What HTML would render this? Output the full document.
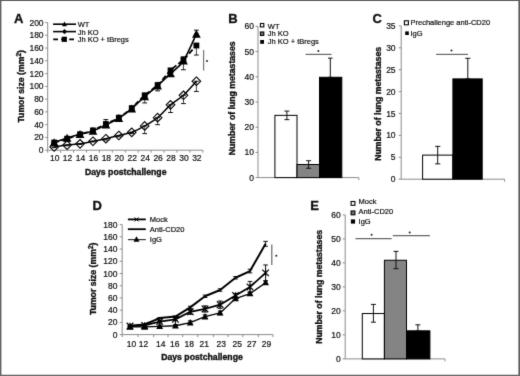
<!DOCTYPE html>
<html><head><meta charset="utf-8"><style>
html,body{margin:0;padding:0;background:#fff;width:520px;height:376px;overflow:hidden}
svg{display:block;font-family:"Liberation Sans",sans-serif}
text{stroke:#111;stroke-width:0.2px}
text[font-weight="bold"]{stroke-width:0.35px}
</style></head><body>
<svg width="520" height="376" viewBox="0 0 520 376">
<defs><filter id="bl" x="0" y="0" width="520" height="376" filterUnits="userSpaceOnUse" color-interpolation-filters="sRGB"><feConvolveMatrix order="3" kernelMatrix="1 8 1 8 64 8 1 8 1" edgeMode="duplicate"/></filter></defs>
<g filter="url(#bl)">
<rect x="0" y="0" width="520" height="376" fill="#fff"/>
<text x="14.00" y="23.00" font-size="13" text-anchor="start" font-weight="bold" fill="#111" >A</text>
<line x1="47.70" y1="22.50" x2="47.70" y2="150.20" stroke="#8c8c8c" stroke-width="1" />
<line x1="45.20" y1="150.20" x2="47.70" y2="150.20" stroke="#8c8c8c" stroke-width="1" />
<text x="43.60" y="153.25" font-size="8.5" text-anchor="end" font-weight="normal" fill="#111" >0</text>
<line x1="45.20" y1="137.43" x2="47.70" y2="137.43" stroke="#8c8c8c" stroke-width="1" />
<text x="43.60" y="140.48" font-size="8.5" text-anchor="end" font-weight="normal" fill="#111" >20</text>
<line x1="45.20" y1="124.66" x2="47.70" y2="124.66" stroke="#8c8c8c" stroke-width="1" />
<text x="43.60" y="127.71" font-size="8.5" text-anchor="end" font-weight="normal" fill="#111" >40</text>
<line x1="45.20" y1="111.89" x2="47.70" y2="111.89" stroke="#8c8c8c" stroke-width="1" />
<text x="43.60" y="114.94" font-size="8.5" text-anchor="end" font-weight="normal" fill="#111" >60</text>
<line x1="45.20" y1="99.12" x2="47.70" y2="99.12" stroke="#8c8c8c" stroke-width="1" />
<text x="43.60" y="102.17" font-size="8.5" text-anchor="end" font-weight="normal" fill="#111" >80</text>
<line x1="45.20" y1="86.35" x2="47.70" y2="86.35" stroke="#8c8c8c" stroke-width="1" />
<text x="43.60" y="89.40" font-size="8.5" text-anchor="end" font-weight="normal" fill="#111" >100</text>
<line x1="45.20" y1="73.58" x2="47.70" y2="73.58" stroke="#8c8c8c" stroke-width="1" />
<text x="43.60" y="76.63" font-size="8.5" text-anchor="end" font-weight="normal" fill="#111" >120</text>
<line x1="45.20" y1="60.81" x2="47.70" y2="60.81" stroke="#8c8c8c" stroke-width="1" />
<text x="43.60" y="63.86" font-size="8.5" text-anchor="end" font-weight="normal" fill="#111" >140</text>
<line x1="45.20" y1="48.04" x2="47.70" y2="48.04" stroke="#8c8c8c" stroke-width="1" />
<text x="43.60" y="51.09" font-size="8.5" text-anchor="end" font-weight="normal" fill="#111" >160</text>
<line x1="45.20" y1="35.27" x2="47.70" y2="35.27" stroke="#8c8c8c" stroke-width="1" />
<text x="43.60" y="38.32" font-size="8.5" text-anchor="end" font-weight="normal" fill="#111" >180</text>
<line x1="45.20" y1="22.50" x2="47.70" y2="22.50" stroke="#8c8c8c" stroke-width="1" />
<text x="43.60" y="25.55" font-size="8.5" text-anchor="end" font-weight="normal" fill="#111" >200</text>
<line x1="47.70" y1="150.20" x2="202.86" y2="150.20" stroke="#8c8c8c" stroke-width="1" />
<line x1="47.70" y1="150.20" x2="47.70" y2="152.70" stroke="#8c8c8c" stroke-width="1" />
<line x1="60.63" y1="150.20" x2="60.63" y2="152.70" stroke="#8c8c8c" stroke-width="1" />
<line x1="73.56" y1="150.20" x2="73.56" y2="152.70" stroke="#8c8c8c" stroke-width="1" />
<line x1="86.49" y1="150.20" x2="86.49" y2="152.70" stroke="#8c8c8c" stroke-width="1" />
<line x1="99.42" y1="150.20" x2="99.42" y2="152.70" stroke="#8c8c8c" stroke-width="1" />
<line x1="112.35" y1="150.20" x2="112.35" y2="152.70" stroke="#8c8c8c" stroke-width="1" />
<line x1="125.28" y1="150.20" x2="125.28" y2="152.70" stroke="#8c8c8c" stroke-width="1" />
<line x1="138.21" y1="150.20" x2="138.21" y2="152.70" stroke="#8c8c8c" stroke-width="1" />
<line x1="151.14" y1="150.20" x2="151.14" y2="152.70" stroke="#8c8c8c" stroke-width="1" />
<line x1="164.07" y1="150.20" x2="164.07" y2="152.70" stroke="#8c8c8c" stroke-width="1" />
<line x1="177.00" y1="150.20" x2="177.00" y2="152.70" stroke="#8c8c8c" stroke-width="1" />
<line x1="189.93" y1="150.20" x2="189.93" y2="152.70" stroke="#8c8c8c" stroke-width="1" />
<line x1="202.86" y1="150.20" x2="202.86" y2="152.70" stroke="#8c8c8c" stroke-width="1" />
<text x="54.67" y="161.30" font-size="8.5" text-anchor="middle" font-weight="normal" fill="#111" >10</text>
<text x="67.59" y="161.30" font-size="8.5" text-anchor="middle" font-weight="normal" fill="#111" >12</text>
<text x="80.53" y="161.30" font-size="8.5" text-anchor="middle" font-weight="normal" fill="#111" >14</text>
<text x="93.45" y="161.30" font-size="8.5" text-anchor="middle" font-weight="normal" fill="#111" >16</text>
<text x="106.39" y="161.30" font-size="8.5" text-anchor="middle" font-weight="normal" fill="#111" >18</text>
<text x="119.31" y="161.30" font-size="8.5" text-anchor="middle" font-weight="normal" fill="#111" >20</text>
<text x="132.25" y="161.30" font-size="8.5" text-anchor="middle" font-weight="normal" fill="#111" >22</text>
<text x="145.18" y="161.30" font-size="8.5" text-anchor="middle" font-weight="normal" fill="#111" >24</text>
<text x="158.11" y="161.30" font-size="8.5" text-anchor="middle" font-weight="normal" fill="#111" >26</text>
<text x="171.03" y="161.30" font-size="8.5" text-anchor="middle" font-weight="normal" fill="#111" >28</text>
<text x="183.96" y="161.30" font-size="8.5" text-anchor="middle" font-weight="normal" fill="#111" >30</text>
<text x="196.89" y="161.30" font-size="8.5" text-anchor="middle" font-weight="normal" fill="#111" >32</text>
<text x="125.7" y="175.2" font-size="8.7" font-weight="bold" text-anchor="middle" fill="#111">Days postchallenge</text>
<text transform="translate(24.20,86.30) rotate(-90)" x="0" y="0" font-size="8.7" font-weight="bold" text-anchor="middle" fill="#111">Tumor size (mm<tspan font-size="6.6" dy="-3.2">2</tspan><tspan dy="3.2">)</tspan></text>
<line x1="54.17" y1="141.26" x2="54.17" y2="142.54" stroke="#333" stroke-width="0.9" />
<line x1="51.77" y1="141.26" x2="56.57" y2="141.26" stroke="#111" stroke-width="1" />
<line x1="51.77" y1="142.54" x2="56.57" y2="142.54" stroke="#111" stroke-width="1" />
<line x1="54.17" y1="142.54" x2="54.17" y2="143.81" stroke="#333" stroke-width="0.9" />
<line x1="51.77" y1="142.54" x2="56.57" y2="142.54" stroke="#111" stroke-width="1" />
<line x1="51.77" y1="143.81" x2="56.57" y2="143.81" stroke="#111" stroke-width="1" />
<line x1="54.17" y1="147.01" x2="54.17" y2="147.65" stroke="#333" stroke-width="0.9" />
<line x1="51.77" y1="147.01" x2="56.57" y2="147.01" stroke="#111" stroke-width="1" />
<line x1="51.77" y1="147.65" x2="56.57" y2="147.65" stroke="#111" stroke-width="1" />
<line x1="67.09" y1="136.79" x2="67.09" y2="138.07" stroke="#333" stroke-width="0.9" />
<line x1="64.69" y1="136.79" x2="69.50" y2="136.79" stroke="#111" stroke-width="1" />
<line x1="64.69" y1="138.07" x2="69.50" y2="138.07" stroke="#111" stroke-width="1" />
<line x1="67.09" y1="138.71" x2="67.09" y2="139.98" stroke="#333" stroke-width="0.9" />
<line x1="64.69" y1="138.71" x2="69.50" y2="138.71" stroke="#111" stroke-width="1" />
<line x1="64.69" y1="139.98" x2="69.50" y2="139.98" stroke="#111" stroke-width="1" />
<line x1="67.09" y1="145.09" x2="67.09" y2="145.73" stroke="#333" stroke-width="0.9" />
<line x1="64.69" y1="145.09" x2="69.50" y2="145.09" stroke="#111" stroke-width="1" />
<line x1="64.69" y1="145.73" x2="69.50" y2="145.73" stroke="#111" stroke-width="1" />
<line x1="80.03" y1="132.96" x2="80.03" y2="134.24" stroke="#333" stroke-width="0.9" />
<line x1="77.62" y1="132.96" x2="82.43" y2="132.96" stroke="#111" stroke-width="1" />
<line x1="77.62" y1="134.24" x2="82.43" y2="134.24" stroke="#111" stroke-width="1" />
<line x1="80.03" y1="134.24" x2="80.03" y2="135.51" stroke="#333" stroke-width="0.9" />
<line x1="77.62" y1="134.24" x2="82.43" y2="134.24" stroke="#111" stroke-width="1" />
<line x1="77.62" y1="135.51" x2="82.43" y2="135.51" stroke="#111" stroke-width="1" />
<line x1="80.03" y1="143.81" x2="80.03" y2="144.45" stroke="#333" stroke-width="0.9" />
<line x1="77.62" y1="143.81" x2="82.43" y2="143.81" stroke="#111" stroke-width="1" />
<line x1="77.62" y1="144.45" x2="82.43" y2="144.45" stroke="#111" stroke-width="1" />
<line x1="92.95" y1="129.13" x2="92.95" y2="131.04" stroke="#333" stroke-width="0.9" />
<line x1="90.55" y1="129.13" x2="95.36" y2="129.13" stroke="#111" stroke-width="1" />
<line x1="90.55" y1="131.04" x2="95.36" y2="131.04" stroke="#111" stroke-width="1" />
<line x1="92.95" y1="130.41" x2="92.95" y2="132.32" stroke="#333" stroke-width="0.9" />
<line x1="90.55" y1="130.41" x2="95.36" y2="130.41" stroke="#111" stroke-width="1" />
<line x1="90.55" y1="132.32" x2="95.36" y2="132.32" stroke="#111" stroke-width="1" />
<line x1="92.95" y1="141.26" x2="92.95" y2="141.90" stroke="#333" stroke-width="0.9" />
<line x1="90.55" y1="141.26" x2="95.36" y2="141.26" stroke="#111" stroke-width="1" />
<line x1="90.55" y1="141.90" x2="95.36" y2="141.90" stroke="#111" stroke-width="1" />
<line x1="105.89" y1="119.55" x2="105.89" y2="124.66" stroke="#333" stroke-width="0.9" />
<line x1="103.48" y1="119.55" x2="108.29" y2="119.55" stroke="#111" stroke-width="1" />
<line x1="103.48" y1="124.66" x2="108.29" y2="124.66" stroke="#111" stroke-width="1" />
<line x1="105.89" y1="124.02" x2="105.89" y2="125.94" stroke="#333" stroke-width="0.9" />
<line x1="103.48" y1="124.02" x2="108.29" y2="124.02" stroke="#111" stroke-width="1" />
<line x1="103.48" y1="125.94" x2="108.29" y2="125.94" stroke="#111" stroke-width="1" />
<line x1="105.89" y1="138.71" x2="105.89" y2="139.98" stroke="#333" stroke-width="0.9" />
<line x1="103.48" y1="138.71" x2="108.29" y2="138.71" stroke="#111" stroke-width="1" />
<line x1="103.48" y1="139.98" x2="108.29" y2="139.98" stroke="#111" stroke-width="1" />
<line x1="118.81" y1="116.36" x2="118.81" y2="118.27" stroke="#333" stroke-width="0.9" />
<line x1="116.41" y1="116.36" x2="121.22" y2="116.36" stroke="#111" stroke-width="1" />
<line x1="116.41" y1="118.27" x2="121.22" y2="118.27" stroke="#111" stroke-width="1" />
<line x1="118.81" y1="117.64" x2="118.81" y2="119.55" stroke="#333" stroke-width="0.9" />
<line x1="116.41" y1="117.64" x2="121.22" y2="117.64" stroke="#111" stroke-width="1" />
<line x1="116.41" y1="119.55" x2="121.22" y2="119.55" stroke="#111" stroke-width="1" />
<line x1="118.81" y1="135.51" x2="118.81" y2="136.79" stroke="#333" stroke-width="0.9" />
<line x1="116.41" y1="135.51" x2="121.22" y2="135.51" stroke="#111" stroke-width="1" />
<line x1="116.41" y1="136.79" x2="121.22" y2="136.79" stroke="#111" stroke-width="1" />
<line x1="131.75" y1="106.78" x2="131.75" y2="108.70" stroke="#333" stroke-width="0.9" />
<line x1="129.34" y1="106.78" x2="134.15" y2="106.78" stroke="#111" stroke-width="1" />
<line x1="129.34" y1="108.70" x2="134.15" y2="108.70" stroke="#111" stroke-width="1" />
<line x1="131.75" y1="108.06" x2="131.75" y2="109.97" stroke="#333" stroke-width="0.9" />
<line x1="129.34" y1="108.06" x2="134.15" y2="108.06" stroke="#111" stroke-width="1" />
<line x1="129.34" y1="109.97" x2="134.15" y2="109.97" stroke="#111" stroke-width="1" />
<line x1="131.75" y1="132.32" x2="131.75" y2="133.60" stroke="#333" stroke-width="0.9" />
<line x1="129.34" y1="132.32" x2="134.15" y2="132.32" stroke="#111" stroke-width="1" />
<line x1="129.34" y1="133.60" x2="134.15" y2="133.60" stroke="#111" stroke-width="1" />
<line x1="144.68" y1="94.01" x2="144.68" y2="96.57" stroke="#333" stroke-width="0.9" />
<line x1="142.28" y1="94.01" x2="147.08" y2="94.01" stroke="#111" stroke-width="1" />
<line x1="142.28" y1="96.57" x2="147.08" y2="96.57" stroke="#111" stroke-width="1" />
<line x1="144.68" y1="95.29" x2="144.68" y2="102.95" stroke="#333" stroke-width="0.9" />
<line x1="142.28" y1="95.29" x2="147.08" y2="95.29" stroke="#111" stroke-width="1" />
<line x1="142.28" y1="102.95" x2="147.08" y2="102.95" stroke="#111" stroke-width="1" />
<line x1="144.68" y1="125.94" x2="144.68" y2="133.60" stroke="#333" stroke-width="0.9" />
<line x1="142.28" y1="125.94" x2="147.08" y2="125.94" stroke="#111" stroke-width="1" />
<line x1="142.28" y1="133.60" x2="147.08" y2="133.60" stroke="#111" stroke-width="1" />
<line x1="157.61" y1="83.16" x2="157.61" y2="85.71" stroke="#333" stroke-width="0.9" />
<line x1="155.21" y1="83.16" x2="160.01" y2="83.16" stroke="#111" stroke-width="1" />
<line x1="155.21" y1="85.71" x2="160.01" y2="85.71" stroke="#111" stroke-width="1" />
<line x1="157.61" y1="85.07" x2="157.61" y2="90.82" stroke="#333" stroke-width="0.9" />
<line x1="155.21" y1="85.07" x2="160.01" y2="85.07" stroke="#111" stroke-width="1" />
<line x1="155.21" y1="90.82" x2="160.01" y2="90.82" stroke="#111" stroke-width="1" />
<line x1="157.61" y1="117.64" x2="157.61" y2="124.66" stroke="#333" stroke-width="0.9" />
<line x1="155.21" y1="117.64" x2="160.01" y2="117.64" stroke="#111" stroke-width="1" />
<line x1="155.21" y1="124.66" x2="160.01" y2="124.66" stroke="#111" stroke-width="1" />
<line x1="170.53" y1="70.39" x2="170.53" y2="73.58" stroke="#333" stroke-width="0.9" />
<line x1="168.13" y1="70.39" x2="172.94" y2="70.39" stroke="#111" stroke-width="1" />
<line x1="168.13" y1="73.58" x2="172.94" y2="73.58" stroke="#111" stroke-width="1" />
<line x1="170.53" y1="70.39" x2="170.53" y2="76.13" stroke="#333" stroke-width="0.9" />
<line x1="168.13" y1="70.39" x2="172.94" y2="70.39" stroke="#111" stroke-width="1" />
<line x1="168.13" y1="76.13" x2="172.94" y2="76.13" stroke="#111" stroke-width="1" />
<line x1="170.53" y1="104.87" x2="170.53" y2="112.53" stroke="#333" stroke-width="0.9" />
<line x1="168.13" y1="104.87" x2="172.94" y2="104.87" stroke="#111" stroke-width="1" />
<line x1="168.13" y1="112.53" x2="172.94" y2="112.53" stroke="#111" stroke-width="1" />
<line x1="183.46" y1="56.98" x2="183.46" y2="60.81" stroke="#333" stroke-width="0.9" />
<line x1="181.06" y1="56.98" x2="185.86" y2="56.98" stroke="#111" stroke-width="1" />
<line x1="181.06" y1="60.81" x2="185.86" y2="60.81" stroke="#111" stroke-width="1" />
<line x1="183.46" y1="59.53" x2="183.46" y2="69.75" stroke="#333" stroke-width="0.9" />
<line x1="181.06" y1="59.53" x2="185.86" y2="59.53" stroke="#111" stroke-width="1" />
<line x1="181.06" y1="69.75" x2="185.86" y2="69.75" stroke="#111" stroke-width="1" />
<line x1="183.46" y1="95.29" x2="183.46" y2="103.59" stroke="#333" stroke-width="0.9" />
<line x1="181.06" y1="95.29" x2="185.86" y2="95.29" stroke="#111" stroke-width="1" />
<line x1="181.06" y1="103.59" x2="185.86" y2="103.59" stroke="#111" stroke-width="1" />
<line x1="196.39" y1="30.16" x2="196.39" y2="33.99" stroke="#333" stroke-width="0.9" />
<line x1="193.99" y1="30.16" x2="198.79" y2="30.16" stroke="#111" stroke-width="1" />
<line x1="193.99" y1="33.99" x2="198.79" y2="33.99" stroke="#111" stroke-width="1" />
<line x1="196.39" y1="45.49" x2="196.39" y2="55.06" stroke="#333" stroke-width="0.9" />
<line x1="193.99" y1="45.49" x2="198.79" y2="45.49" stroke="#111" stroke-width="1" />
<line x1="193.99" y1="55.06" x2="198.79" y2="55.06" stroke="#111" stroke-width="1" />
<line x1="196.39" y1="81.24" x2="196.39" y2="91.46" stroke="#333" stroke-width="0.9" />
<line x1="193.99" y1="81.24" x2="198.79" y2="81.24" stroke="#111" stroke-width="1" />
<line x1="193.99" y1="91.46" x2="198.79" y2="91.46" stroke="#111" stroke-width="1" />
<path d="M54.17,147.01 C56.32,146.69 62.78,145.62 67.09,145.09 C71.41,144.56 75.72,144.45 80.03,143.81 C84.34,143.18 88.64,142.11 92.95,141.26 C97.27,140.41 101.58,139.66 105.89,138.71 C110.20,137.75 114.50,136.58 118.81,135.51 C123.12,134.45 127.44,133.92 131.75,132.32 C136.06,130.73 140.37,128.38 144.68,125.94 C148.99,123.49 153.30,121.15 157.61,117.64 C161.92,114.12 166.22,108.59 170.53,104.87 C174.84,101.14 179.15,99.23 183.46,95.29 C187.77,91.35 194.24,83.58 196.39,81.24" fill="none" stroke="#000" stroke-width="1.5" stroke-linejoin="round" />
<path d="M54.17,142.54 C56.32,141.79 62.78,139.45 67.09,138.07 C71.41,136.69 75.72,135.41 80.03,134.24 C84.34,133.07 88.64,132.64 92.95,131.04 C97.27,129.45 101.58,126.79 105.89,124.66 C110.20,122.53 114.50,120.94 118.81,118.27 C123.12,115.61 127.44,112.32 131.75,108.70 C136.06,105.08 140.37,100.40 144.68,96.57 C148.99,92.73 153.30,89.54 157.61,85.71 C161.92,81.88 166.22,77.73 170.53,73.58 C174.84,69.43 179.15,67.41 183.46,60.81 C187.77,54.21 194.24,38.46 196.39,33.99" fill="none" stroke="#000" stroke-width="1.6" stroke-linejoin="round" />
<path d="M54.17,142.54 C56.32,141.90 62.78,140.09 67.09,138.71 C71.41,137.32 75.72,135.62 80.03,134.24 C84.34,132.85 88.64,132.11 92.95,130.41 C97.27,128.70 101.58,126.15 105.89,124.02 C110.20,121.89 114.50,120.30 118.81,117.64 C123.12,114.98 127.44,111.78 131.75,108.06 C136.06,104.33 140.37,99.12 144.68,95.29 C148.99,91.46 153.30,89.22 157.61,85.07 C161.92,80.92 166.22,74.64 170.53,70.39 C174.84,66.13 179.15,63.68 183.46,59.53 C187.77,55.38 194.24,47.83 196.39,45.49" fill="none" stroke="#000" stroke-width="1.8" stroke-linejoin="round" stroke-dasharray="5,2.5"/>
<path d="M54.17,142.71 L58.47,147.01 L54.17,151.31 L49.87,147.01Z" fill="none" stroke="#000" stroke-width="1.1"/>
<path d="M67.09,140.79 L71.39,145.09 L67.09,149.39 L62.80,145.09Z" fill="none" stroke="#000" stroke-width="1.1"/>
<path d="M80.03,139.51 L84.33,143.81 L80.03,148.12 L75.73,143.81Z" fill="none" stroke="#000" stroke-width="1.1"/>
<path d="M92.95,136.96 L97.25,141.26 L92.95,145.56 L88.66,141.26Z" fill="none" stroke="#000" stroke-width="1.1"/>
<path d="M105.89,134.41 L110.19,138.71 L105.89,143.01 L101.59,138.71Z" fill="none" stroke="#000" stroke-width="1.1"/>
<path d="M118.81,131.21 L123.11,135.51 L118.81,139.81 L114.52,135.51Z" fill="none" stroke="#000" stroke-width="1.1"/>
<path d="M131.75,128.02 L136.05,132.32 L131.75,136.62 L127.45,132.32Z" fill="none" stroke="#000" stroke-width="1.1"/>
<path d="M144.68,121.64 L148.98,125.94 L144.68,130.24 L140.38,125.94Z" fill="none" stroke="#000" stroke-width="1.1"/>
<path d="M157.61,113.34 L161.91,117.64 L157.61,121.94 L153.31,117.64Z" fill="none" stroke="#000" stroke-width="1.1"/>
<path d="M170.53,100.57 L174.84,104.87 L170.53,109.17 L166.23,104.87Z" fill="none" stroke="#000" stroke-width="1.1"/>
<path d="M183.46,90.99 L187.76,95.29 L183.46,99.59 L179.16,95.29Z" fill="none" stroke="#000" stroke-width="1.1"/>
<path d="M196.39,76.94 L200.69,81.24 L196.39,85.54 L192.09,81.24Z" fill="none" stroke="#000" stroke-width="1.1"/>
<rect x="51.27" y="139.64" width="5.80" height="5.80" fill="#000" stroke="none" stroke-width="0"/>
<rect x="64.19" y="135.81" width="5.80" height="5.80" fill="#000" stroke="none" stroke-width="0"/>
<rect x="77.12" y="131.34" width="5.80" height="5.80" fill="#000" stroke="none" stroke-width="0"/>
<rect x="90.05" y="127.51" width="5.80" height="5.80" fill="#000" stroke="none" stroke-width="0"/>
<rect x="102.98" y="121.12" width="5.80" height="5.80" fill="#000" stroke="none" stroke-width="0"/>
<rect x="115.91" y="114.74" width="5.80" height="5.80" fill="#000" stroke="none" stroke-width="0"/>
<rect x="128.84" y="105.16" width="5.80" height="5.80" fill="#000" stroke="none" stroke-width="0"/>
<rect x="141.78" y="92.39" width="5.80" height="5.80" fill="#000" stroke="none" stroke-width="0"/>
<rect x="154.71" y="82.17" width="5.80" height="5.80" fill="#000" stroke="none" stroke-width="0"/>
<rect x="167.63" y="67.49" width="5.80" height="5.80" fill="#000" stroke="none" stroke-width="0"/>
<rect x="180.56" y="56.63" width="5.80" height="5.80" fill="#000" stroke="none" stroke-width="0"/>
<rect x="193.49" y="42.59" width="5.80" height="5.80" fill="#000" stroke="none" stroke-width="0"/>
<path d="M54.17,138.24 L58.54,146.29 L49.80,146.29Z" fill="#000"/>
<path d="M67.09,133.77 L71.47,141.82 L62.73,141.82Z" fill="#000"/>
<path d="M80.03,129.94 L84.40,137.99 L75.66,137.99Z" fill="#000"/>
<path d="M92.95,126.75 L97.33,134.79 L88.58,134.79Z" fill="#000"/>
<path d="M105.89,120.36 L110.26,128.41 L101.52,128.41Z" fill="#000"/>
<path d="M118.81,113.97 L123.19,122.02 L114.44,122.02Z" fill="#000"/>
<path d="M131.75,104.40 L136.12,112.45 L127.38,112.45Z" fill="#000"/>
<path d="M144.68,92.27 L149.05,100.32 L140.31,100.32Z" fill="#000"/>
<path d="M157.61,81.41 L161.98,89.46 L153.24,89.46Z" fill="#000"/>
<path d="M170.53,69.28 L174.91,77.33 L166.16,77.33Z" fill="#000"/>
<path d="M183.46,56.51 L187.83,64.56 L179.09,64.56Z" fill="#000"/>
<path d="M196.39,29.69 L200.76,37.74 L192.02,37.74Z" fill="#000"/>
<line x1="203.60" y1="50.00" x2="203.60" y2="70.40" stroke="#777" stroke-width="1.2" />
<circle cx="207.00" cy="61.00" r="1.0" fill="#222"/>
<line x1="53.10" y1="24.20" x2="76.00" y2="24.20" stroke="#000" stroke-width="1.6" />
<path d="M64.50,21.60 L66.97,26.15 L62.03,26.15Z" fill="#000"/>
<line x1="53.10" y1="31.60" x2="76.00" y2="31.60" stroke="#000" stroke-width="1.6" />
<path d="M64.50,29.30 L66.80,31.60 L64.50,33.90 L62.20,31.60Z" fill="#000" stroke="#000" stroke-width="0.5"/>
<line x1="53.20" y1="39.30" x2="76.00" y2="39.30" stroke="#000" stroke-width="1.8" stroke-dasharray="4.8,3.2"/>
<rect x="61.70" y="36.70" width="5.20" height="5.20" fill="#000" stroke="none" stroke-width="0"/>
<text x="77.70" y="27.00" font-size="7.5" text-anchor="start" font-weight="normal" fill="#111" >WT</text>
<text x="77.70" y="34.70" font-size="7.5" text-anchor="start" font-weight="normal" fill="#111" >Jh KO</text>
<text x="77.70" y="42.40" font-size="7.5" text-anchor="start" font-weight="normal" fill="#111" >Jh KO + tBregs</text>
<text x="228.20" y="23.10" font-size="13" text-anchor="start" font-weight="bold" fill="#111" >B</text>
<line x1="258.00" y1="26.40" x2="258.00" y2="177.60" stroke="#8c8c8c" stroke-width="1" />
<line x1="255.50" y1="177.60" x2="258.00" y2="177.60" stroke="#8c8c8c" stroke-width="1" />
<text x="254.00" y="180.65" font-size="8.5" text-anchor="end" font-weight="normal" fill="#111" >0</text>
<line x1="255.50" y1="152.40" x2="258.00" y2="152.40" stroke="#8c8c8c" stroke-width="1" />
<text x="254.00" y="155.45" font-size="8.5" text-anchor="end" font-weight="normal" fill="#111" >10</text>
<line x1="255.50" y1="127.20" x2="258.00" y2="127.20" stroke="#8c8c8c" stroke-width="1" />
<text x="254.00" y="130.25" font-size="8.5" text-anchor="end" font-weight="normal" fill="#111" >20</text>
<line x1="255.50" y1="102.00" x2="258.00" y2="102.00" stroke="#8c8c8c" stroke-width="1" />
<text x="254.00" y="105.05" font-size="8.5" text-anchor="end" font-weight="normal" fill="#111" >30</text>
<line x1="255.50" y1="76.80" x2="258.00" y2="76.80" stroke="#8c8c8c" stroke-width="1" />
<text x="254.00" y="79.85" font-size="8.5" text-anchor="end" font-weight="normal" fill="#111" >40</text>
<line x1="255.50" y1="51.60" x2="258.00" y2="51.60" stroke="#8c8c8c" stroke-width="1" />
<text x="254.00" y="54.65" font-size="8.5" text-anchor="end" font-weight="normal" fill="#111" >50</text>
<line x1="255.50" y1="26.40" x2="258.00" y2="26.40" stroke="#8c8c8c" stroke-width="1" />
<text x="254.00" y="29.45" font-size="8.5" text-anchor="end" font-weight="normal" fill="#111" >60</text>
<line x1="258.00" y1="177.60" x2="358.80" y2="177.60" stroke="#8c8c8c" stroke-width="1" />
<line x1="358.80" y1="177.60" x2="358.80" y2="180.10" stroke="#8c8c8c" stroke-width="1" />
<text transform="translate(235.20,98.35) rotate(-90)" x="0" y="0" font-size="8.7" font-weight="bold" text-anchor="middle" fill="#111">Number of lung metastases</text>
<rect x="274.9" y="115.36" width="22.1" height="62.24" fill="#fff" stroke="#000" stroke-width="1"/>
<rect x="297.0" y="164.50" width="22.5" height="13.10" fill="#848484" stroke="#000" stroke-width="1"/>
<rect x="319.5" y="77.30" width="22.3" height="100.30" fill="#000" stroke="#000" stroke-width="1"/>
<line x1="286.90" y1="111.07" x2="286.90" y2="119.64" stroke="#111" stroke-width="1" />
<line x1="284.40" y1="111.07" x2="289.40" y2="111.07" stroke="#111" stroke-width="1" />
<line x1="284.40" y1="119.64" x2="289.40" y2="119.64" stroke="#111" stroke-width="1" />
<line x1="308.60" y1="160.72" x2="308.60" y2="168.28" stroke="#111" stroke-width="1" />
<line x1="306.10" y1="160.72" x2="311.10" y2="160.72" stroke="#111" stroke-width="1" />
<line x1="306.10" y1="168.28" x2="311.10" y2="168.28" stroke="#111" stroke-width="1" />
<line x1="330.30" y1="58.15" x2="330.30" y2="77.30" stroke="#111" stroke-width="1" />
<line x1="328.00" y1="58.15" x2="332.60" y2="58.15" stroke="#111" stroke-width="1" />
<line x1="328.00" y1="77.30" x2="332.60" y2="77.30" stroke="#111" stroke-width="1" />
<line x1="305.60" y1="54.40" x2="331.50" y2="54.40" stroke="#666" stroke-width="1.2" />
<circle cx="318.40" cy="51.00" r="1.0" fill="#222"/>
<rect x="260.40" y="23.50" width="3.40" height="3.40" fill="#fff" stroke="#000" stroke-width="1.1"/>
<rect x="260.40" y="32.00" width="3.40" height="3.40" fill="#777" stroke="#000" stroke-width="1.1"/>
<rect x="260.20" y="40.00" width="3.80" height="3.80" fill="#000" stroke="none" stroke-width="0"/>
<text x="267.80" y="28.80" font-size="7.5" text-anchor="start" font-weight="normal" fill="#111" >WT</text>
<text x="267.80" y="36.40" font-size="7.5" text-anchor="start" font-weight="normal" fill="#111" >Jh KO</text>
<text x="267.80" y="44.20" font-size="7.5" text-anchor="start" font-weight="normal" fill="#111" >Jh KO + tBregs</text>
<text x="372.60" y="23.40" font-size="13" text-anchor="start" font-weight="bold" fill="#111" >C</text>
<line x1="401.20" y1="25.90" x2="401.20" y2="179.20" stroke="#8c8c8c" stroke-width="1" />
<line x1="398.70" y1="179.20" x2="401.20" y2="179.20" stroke="#8c8c8c" stroke-width="1" />
<text x="395.60" y="182.25" font-size="8.5" text-anchor="end" font-weight="normal" fill="#111" >0</text>
<line x1="398.70" y1="157.30" x2="401.20" y2="157.30" stroke="#8c8c8c" stroke-width="1" />
<text x="395.60" y="160.35" font-size="8.5" text-anchor="end" font-weight="normal" fill="#111" >5</text>
<line x1="398.70" y1="135.40" x2="401.20" y2="135.40" stroke="#8c8c8c" stroke-width="1" />
<text x="395.60" y="138.45" font-size="8.5" text-anchor="end" font-weight="normal" fill="#111" >10</text>
<line x1="398.70" y1="113.50" x2="401.20" y2="113.50" stroke="#8c8c8c" stroke-width="1" />
<text x="395.60" y="116.55" font-size="8.5" text-anchor="end" font-weight="normal" fill="#111" >15</text>
<line x1="398.70" y1="91.60" x2="401.20" y2="91.60" stroke="#8c8c8c" stroke-width="1" />
<text x="395.60" y="94.65" font-size="8.5" text-anchor="end" font-weight="normal" fill="#111" >20</text>
<line x1="398.70" y1="69.70" x2="401.20" y2="69.70" stroke="#8c8c8c" stroke-width="1" />
<text x="395.60" y="72.75" font-size="8.5" text-anchor="end" font-weight="normal" fill="#111" >25</text>
<line x1="398.70" y1="47.80" x2="401.20" y2="47.80" stroke="#8c8c8c" stroke-width="1" />
<text x="395.60" y="50.85" font-size="8.5" text-anchor="end" font-weight="normal" fill="#111" >30</text>
<line x1="398.70" y1="25.90" x2="401.20" y2="25.90" stroke="#8c8c8c" stroke-width="1" />
<text x="395.60" y="28.95" font-size="8.5" text-anchor="end" font-weight="normal" fill="#111" >35</text>
<line x1="401.20" y1="179.20" x2="504.60" y2="179.20" stroke="#8c8c8c" stroke-width="1" />
<line x1="504.60" y1="179.20" x2="504.60" y2="181.70" stroke="#8c8c8c" stroke-width="1" />
<text transform="translate(380.60,103.90) rotate(-90)" x="0" y="0" font-size="8.7" font-weight="bold" text-anchor="middle" fill="#111">Number of lung metastases</text>
<rect x="422.6" y="155.11" width="30.3" height="24.09" fill="#fff" stroke="#000" stroke-width="1"/>
<rect x="452.9" y="78.90" width="29.3" height="100.30" fill="#000" stroke="#000" stroke-width="1"/>
<line x1="437.70" y1="146.35" x2="437.70" y2="163.87" stroke="#111" stroke-width="1" />
<line x1="435.10" y1="146.35" x2="440.30" y2="146.35" stroke="#111" stroke-width="1" />
<line x1="435.10" y1="163.87" x2="440.30" y2="163.87" stroke="#111" stroke-width="1" />
<line x1="467.80" y1="58.31" x2="467.80" y2="78.90" stroke="#111" stroke-width="1" />
<line x1="465.20" y1="58.31" x2="470.40" y2="58.31" stroke="#111" stroke-width="1" />
<line x1="465.20" y1="78.90" x2="470.40" y2="78.90" stroke="#111" stroke-width="1" />
<line x1="436.10" y1="54.40" x2="468.00" y2="54.40" stroke="#666" stroke-width="1.2" />
<circle cx="451.50" cy="50.40" r="1.0" fill="#222"/>
<rect x="404.40" y="20.80" width="4.00" height="4.00" fill="#fff" stroke="#000" stroke-width="1.1"/>
<rect x="405.20" y="31.40" width="3.60" height="3.60" fill="#000" stroke="none" stroke-width="0"/>
<text x="410.50" y="25.00" font-size="7.5" text-anchor="start" font-weight="normal" fill="#111" >Prechallenge anti-CD20</text>
<text x="410.50" y="36.20" font-size="7.5" text-anchor="start" font-weight="normal" fill="#111" >IgG</text>
<text x="92.50" y="209.80" font-size="13" text-anchor="start" font-weight="bold" fill="#111" >D</text>
<line x1="122.20" y1="224.62" x2="122.20" y2="334.60" stroke="#8c8c8c" stroke-width="1" />
<line x1="119.70" y1="334.60" x2="122.20" y2="334.60" stroke="#8c8c8c" stroke-width="1" />
<text x="117.50" y="337.65" font-size="8.5" text-anchor="end" font-weight="normal" fill="#111" >0</text>
<line x1="119.70" y1="322.38" x2="122.20" y2="322.38" stroke="#8c8c8c" stroke-width="1" />
<text x="117.50" y="325.43" font-size="8.5" text-anchor="end" font-weight="normal" fill="#111" >20</text>
<line x1="119.70" y1="310.16" x2="122.20" y2="310.16" stroke="#8c8c8c" stroke-width="1" />
<text x="117.50" y="313.21" font-size="8.5" text-anchor="end" font-weight="normal" fill="#111" >40</text>
<line x1="119.70" y1="297.94" x2="122.20" y2="297.94" stroke="#8c8c8c" stroke-width="1" />
<text x="117.50" y="300.99" font-size="8.5" text-anchor="end" font-weight="normal" fill="#111" >60</text>
<line x1="119.70" y1="285.72" x2="122.20" y2="285.72" stroke="#8c8c8c" stroke-width="1" />
<text x="117.50" y="288.77" font-size="8.5" text-anchor="end" font-weight="normal" fill="#111" >80</text>
<line x1="119.70" y1="273.50" x2="122.20" y2="273.50" stroke="#8c8c8c" stroke-width="1" />
<text x="117.50" y="276.55" font-size="8.5" text-anchor="end" font-weight="normal" fill="#111" >100</text>
<line x1="119.70" y1="261.28" x2="122.20" y2="261.28" stroke="#8c8c8c" stroke-width="1" />
<text x="117.50" y="264.33" font-size="8.5" text-anchor="end" font-weight="normal" fill="#111" >120</text>
<line x1="119.70" y1="249.06" x2="122.20" y2="249.06" stroke="#8c8c8c" stroke-width="1" />
<text x="117.50" y="252.11" font-size="8.5" text-anchor="end" font-weight="normal" fill="#111" >140</text>
<line x1="119.70" y1="236.84" x2="122.20" y2="236.84" stroke="#8c8c8c" stroke-width="1" />
<text x="117.50" y="239.89" font-size="8.5" text-anchor="end" font-weight="normal" fill="#111" >160</text>
<line x1="119.70" y1="224.62" x2="122.20" y2="224.62" stroke="#8c8c8c" stroke-width="1" />
<text x="117.50" y="227.67" font-size="8.5" text-anchor="end" font-weight="normal" fill="#111" >180</text>
<line x1="122.20" y1="334.60" x2="273.00" y2="334.60" stroke="#8c8c8c" stroke-width="1" />
<line x1="122.20" y1="334.60" x2="122.20" y2="337.10" stroke="#8c8c8c" stroke-width="1" />
<line x1="138.00" y1="334.60" x2="138.00" y2="337.10" stroke="#8c8c8c" stroke-width="1" />
<line x1="153.70" y1="334.60" x2="153.70" y2="337.10" stroke="#8c8c8c" stroke-width="1" />
<line x1="168.00" y1="334.60" x2="168.00" y2="337.10" stroke="#8c8c8c" stroke-width="1" />
<line x1="182.60" y1="334.60" x2="182.60" y2="337.10" stroke="#8c8c8c" stroke-width="1" />
<line x1="197.80" y1="334.60" x2="197.80" y2="337.10" stroke="#8c8c8c" stroke-width="1" />
<line x1="213.40" y1="334.60" x2="213.40" y2="337.10" stroke="#8c8c8c" stroke-width="1" />
<line x1="228.00" y1="334.60" x2="228.00" y2="337.10" stroke="#8c8c8c" stroke-width="1" />
<line x1="242.80" y1="334.60" x2="242.80" y2="337.10" stroke="#8c8c8c" stroke-width="1" />
<line x1="258.30" y1="334.60" x2="258.30" y2="337.10" stroke="#8c8c8c" stroke-width="1" />
<line x1="273.00" y1="334.60" x2="273.00" y2="337.10" stroke="#8c8c8c" stroke-width="1" />
<text x="131.40" y="346.60" font-size="8.5" text-anchor="middle" font-weight="normal" fill="#111" >10</text>
<text x="143.40" y="346.60" font-size="8.5" text-anchor="middle" font-weight="normal" fill="#111" >12</text>
<text x="160.70" y="346.60" font-size="8.5" text-anchor="middle" font-weight="normal" fill="#111" >14</text>
<text x="174.80" y="346.60" font-size="8.5" text-anchor="middle" font-weight="normal" fill="#111" >16</text>
<text x="189.30" y="346.60" font-size="8.5" text-anchor="middle" font-weight="normal" fill="#111" >18</text>
<text x="204.30" y="346.60" font-size="8.5" text-anchor="middle" font-weight="normal" fill="#111" >21</text>
<text x="221.20" y="346.60" font-size="8.5" text-anchor="middle" font-weight="normal" fill="#111" >23</text>
<text x="237.20" y="346.60" font-size="8.5" text-anchor="middle" font-weight="normal" fill="#111" >25</text>
<text x="251.80" y="346.60" font-size="8.5" text-anchor="middle" font-weight="normal" fill="#111" >27</text>
<text x="266.60" y="346.60" font-size="8.5" text-anchor="middle" font-weight="normal" fill="#111" >29</text>
<text x="202" y="360.4" font-size="8.7" font-weight="bold" text-anchor="middle" fill="#111">Days postchallenge</text>
<text transform="translate(96.30,278.80) rotate(-90)" x="0" y="0" font-size="8.7" font-weight="bold" text-anchor="middle" fill="#111">Tumor size (mm<tspan font-size="6.6" dy="-3.2">2</tspan><tspan dy="3.2">)</tspan></text>
<line x1="130.00" y1="325.13" x2="130.00" y2="326.35" stroke="#111" stroke-width="1" />
<line x1="127.70" y1="325.13" x2="132.30" y2="325.13" stroke="#111" stroke-width="1" />
<line x1="127.70" y1="326.35" x2="132.30" y2="326.35" stroke="#111" stroke-width="1" />
<line x1="130.00" y1="325.44" x2="130.00" y2="326.66" stroke="#111" stroke-width="1" />
<line x1="127.70" y1="325.44" x2="132.30" y2="325.44" stroke="#111" stroke-width="1" />
<line x1="127.70" y1="326.66" x2="132.30" y2="326.66" stroke="#111" stroke-width="1" />
<line x1="130.00" y1="326.35" x2="130.00" y2="327.57" stroke="#111" stroke-width="1" />
<line x1="127.70" y1="326.35" x2="132.30" y2="326.35" stroke="#111" stroke-width="1" />
<line x1="127.70" y1="327.57" x2="132.30" y2="327.57" stroke="#111" stroke-width="1" />
<line x1="144.60" y1="323.91" x2="144.60" y2="325.13" stroke="#111" stroke-width="1" />
<line x1="142.30" y1="323.91" x2="146.90" y2="323.91" stroke="#111" stroke-width="1" />
<line x1="142.30" y1="325.13" x2="146.90" y2="325.13" stroke="#111" stroke-width="1" />
<line x1="144.60" y1="324.82" x2="144.60" y2="326.05" stroke="#111" stroke-width="1" />
<line x1="142.30" y1="324.82" x2="146.90" y2="324.82" stroke="#111" stroke-width="1" />
<line x1="142.30" y1="326.05" x2="146.90" y2="326.05" stroke="#111" stroke-width="1" />
<line x1="144.60" y1="326.35" x2="144.60" y2="327.57" stroke="#111" stroke-width="1" />
<line x1="142.30" y1="326.35" x2="146.90" y2="326.35" stroke="#111" stroke-width="1" />
<line x1="142.30" y1="327.57" x2="146.90" y2="327.57" stroke="#111" stroke-width="1" />
<line x1="159.70" y1="317.49" x2="159.70" y2="318.71" stroke="#111" stroke-width="1" />
<line x1="157.40" y1="317.49" x2="162.00" y2="317.49" stroke="#111" stroke-width="1" />
<line x1="157.40" y1="318.71" x2="162.00" y2="318.71" stroke="#111" stroke-width="1" />
<line x1="159.70" y1="320.36" x2="159.70" y2="322.81" stroke="#111" stroke-width="1" />
<line x1="157.40" y1="320.36" x2="162.00" y2="320.36" stroke="#111" stroke-width="1" />
<line x1="157.40" y1="322.81" x2="162.00" y2="322.81" stroke="#111" stroke-width="1" />
<line x1="159.70" y1="325.13" x2="159.70" y2="327.57" stroke="#111" stroke-width="1" />
<line x1="157.40" y1="325.13" x2="162.00" y2="325.13" stroke="#111" stroke-width="1" />
<line x1="157.40" y1="327.57" x2="162.00" y2="327.57" stroke="#111" stroke-width="1" />
<line x1="175.40" y1="315.96" x2="175.40" y2="317.19" stroke="#111" stroke-width="1" />
<line x1="173.10" y1="315.96" x2="177.70" y2="315.96" stroke="#111" stroke-width="1" />
<line x1="173.10" y1="317.19" x2="177.70" y2="317.19" stroke="#111" stroke-width="1" />
<line x1="175.40" y1="318.10" x2="175.40" y2="320.55" stroke="#111" stroke-width="1" />
<line x1="173.10" y1="318.10" x2="177.70" y2="318.10" stroke="#111" stroke-width="1" />
<line x1="173.10" y1="320.55" x2="177.70" y2="320.55" stroke="#111" stroke-width="1" />
<line x1="175.40" y1="324.52" x2="175.40" y2="326.96" stroke="#111" stroke-width="1" />
<line x1="173.10" y1="324.52" x2="177.70" y2="324.52" stroke="#111" stroke-width="1" />
<line x1="173.10" y1="326.96" x2="177.70" y2="326.96" stroke="#111" stroke-width="1" />
<line x1="190.20" y1="306.19" x2="190.20" y2="308.63" stroke="#111" stroke-width="1" />
<line x1="187.90" y1="306.19" x2="192.50" y2="306.19" stroke="#111" stroke-width="1" />
<line x1="187.90" y1="308.63" x2="192.50" y2="308.63" stroke="#111" stroke-width="1" />
<line x1="190.20" y1="309.37" x2="190.20" y2="314.25" stroke="#111" stroke-width="1" />
<line x1="187.90" y1="309.37" x2="192.50" y2="309.37" stroke="#111" stroke-width="1" />
<line x1="187.90" y1="314.25" x2="192.50" y2="314.25" stroke="#111" stroke-width="1" />
<line x1="190.20" y1="320.85" x2="190.20" y2="324.52" stroke="#111" stroke-width="1" />
<line x1="187.90" y1="320.85" x2="192.50" y2="320.85" stroke="#111" stroke-width="1" />
<line x1="187.90" y1="324.52" x2="192.50" y2="324.52" stroke="#111" stroke-width="1" />
<line x1="205.00" y1="295.07" x2="205.00" y2="297.51" stroke="#111" stroke-width="1" />
<line x1="202.70" y1="295.07" x2="207.30" y2="295.07" stroke="#111" stroke-width="1" />
<line x1="202.70" y1="297.51" x2="207.30" y2="297.51" stroke="#111" stroke-width="1" />
<line x1="205.00" y1="305.88" x2="205.00" y2="311.99" stroke="#111" stroke-width="1" />
<line x1="202.70" y1="305.88" x2="207.30" y2="305.88" stroke="#111" stroke-width="1" />
<line x1="202.70" y1="311.99" x2="207.30" y2="311.99" stroke="#111" stroke-width="1" />
<line x1="205.00" y1="314.86" x2="205.00" y2="318.53" stroke="#111" stroke-width="1" />
<line x1="202.70" y1="314.86" x2="207.30" y2="314.86" stroke="#111" stroke-width="1" />
<line x1="202.70" y1="318.53" x2="207.30" y2="318.53" stroke="#111" stroke-width="1" />
<line x1="220.10" y1="288.78" x2="220.10" y2="291.22" stroke="#111" stroke-width="1" />
<line x1="217.80" y1="288.78" x2="222.40" y2="288.78" stroke="#111" stroke-width="1" />
<line x1="217.80" y1="291.22" x2="222.40" y2="291.22" stroke="#111" stroke-width="1" />
<line x1="220.10" y1="301.00" x2="220.10" y2="308.33" stroke="#111" stroke-width="1" />
<line x1="217.80" y1="301.00" x2="222.40" y2="301.00" stroke="#111" stroke-width="1" />
<line x1="217.80" y1="308.33" x2="222.40" y2="308.33" stroke="#111" stroke-width="1" />
<line x1="220.10" y1="311.08" x2="220.10" y2="314.74" stroke="#111" stroke-width="1" />
<line x1="217.80" y1="311.08" x2="222.40" y2="311.08" stroke="#111" stroke-width="1" />
<line x1="217.80" y1="314.74" x2="222.40" y2="314.74" stroke="#111" stroke-width="1" />
<line x1="235.50" y1="276.56" x2="235.50" y2="279.00" stroke="#111" stroke-width="1" />
<line x1="233.20" y1="276.56" x2="237.80" y2="276.56" stroke="#111" stroke-width="1" />
<line x1="233.20" y1="279.00" x2="237.80" y2="279.00" stroke="#111" stroke-width="1" />
<line x1="235.50" y1="293.66" x2="235.50" y2="297.33" stroke="#111" stroke-width="1" />
<line x1="233.20" y1="293.66" x2="237.80" y2="293.66" stroke="#111" stroke-width="1" />
<line x1="233.20" y1="297.33" x2="237.80" y2="297.33" stroke="#111" stroke-width="1" />
<line x1="235.50" y1="296.72" x2="235.50" y2="300.38" stroke="#111" stroke-width="1" />
<line x1="233.20" y1="296.72" x2="237.80" y2="296.72" stroke="#111" stroke-width="1" />
<line x1="233.20" y1="300.38" x2="237.80" y2="300.38" stroke="#111" stroke-width="1" />
<line x1="250.00" y1="269.22" x2="250.00" y2="272.89" stroke="#111" stroke-width="1" />
<line x1="247.70" y1="269.22" x2="252.30" y2="269.22" stroke="#111" stroke-width="1" />
<line x1="247.70" y1="272.89" x2="252.30" y2="272.89" stroke="#111" stroke-width="1" />
<line x1="250.00" y1="281.44" x2="250.00" y2="292.44" stroke="#111" stroke-width="1" />
<line x1="247.70" y1="281.44" x2="252.30" y2="281.44" stroke="#111" stroke-width="1" />
<line x1="247.70" y1="292.44" x2="252.30" y2="292.44" stroke="#111" stroke-width="1" />
<line x1="250.00" y1="291.83" x2="250.00" y2="295.50" stroke="#111" stroke-width="1" />
<line x1="247.70" y1="291.83" x2="252.30" y2="291.83" stroke="#111" stroke-width="1" />
<line x1="247.70" y1="295.50" x2="252.30" y2="295.50" stroke="#111" stroke-width="1" />
<line x1="265.60" y1="241.36" x2="265.60" y2="246.25" stroke="#111" stroke-width="1" />
<line x1="263.30" y1="241.36" x2="267.90" y2="241.36" stroke="#111" stroke-width="1" />
<line x1="263.30" y1="246.25" x2="267.90" y2="246.25" stroke="#111" stroke-width="1" />
<line x1="265.60" y1="264.95" x2="265.60" y2="280.83" stroke="#111" stroke-width="1" />
<line x1="263.30" y1="264.95" x2="267.90" y2="264.95" stroke="#111" stroke-width="1" />
<line x1="263.30" y1="280.83" x2="267.90" y2="280.83" stroke="#111" stroke-width="1" />
<line x1="265.60" y1="280.83" x2="265.60" y2="284.50" stroke="#111" stroke-width="1" />
<line x1="263.30" y1="280.83" x2="267.90" y2="280.83" stroke="#111" stroke-width="1" />
<line x1="263.30" y1="284.50" x2="267.90" y2="284.50" stroke="#111" stroke-width="1" />
<polyline points="130.00,326.96 144.60,326.96 159.70,326.35 175.40,325.74 190.20,322.69 205.00,316.70 220.10,312.91 235.50,298.55 250.00,293.66 265.60,282.67" fill="none" stroke="#000" stroke-width="1.3" stroke-linejoin="round" />
<polyline points="130.00,326.05 144.60,325.44 159.70,321.59 175.40,319.33 190.20,311.81 205.00,308.94 220.10,304.66 235.50,295.50 250.00,286.94 265.60,272.89" fill="none" stroke="#000" stroke-width="1.8" stroke-linejoin="round" />
<polyline points="130.00,325.74 144.60,324.52 159.70,318.10 175.40,316.58 190.20,307.41 205.00,296.29 220.10,290.00 235.50,277.78 250.00,271.06 265.60,243.81" fill="none" stroke="#000" stroke-width="2.0" stroke-linejoin="round" />
<path d="M130.00,323.36 L133.42,329.66 L126.58,329.66Z" fill="#000"/>
<path d="M144.60,323.36 L148.02,329.66 L141.18,329.66Z" fill="#000"/>
<path d="M159.70,322.75 L163.12,329.05 L156.28,329.05Z" fill="#000"/>
<path d="M175.40,322.14 L178.82,328.44 L171.98,328.44Z" fill="#000"/>
<path d="M190.20,319.09 L193.62,325.39 L186.78,325.39Z" fill="#000"/>
<path d="M205.00,313.10 L208.42,319.40 L201.58,319.40Z" fill="#000"/>
<path d="M220.10,309.31 L223.52,315.61 L216.68,315.61Z" fill="#000"/>
<path d="M235.50,294.95 L238.92,301.25 L232.08,301.25Z" fill="#000"/>
<path d="M250.00,290.06 L253.42,296.36 L246.58,296.36Z" fill="#000"/>
<path d="M265.60,279.06 L269.02,285.37 L262.18,285.37Z" fill="#000"/>
<line x1="126.70" y1="322.75" x2="133.30" y2="329.35" stroke="#000" stroke-width="1.2" />
<line x1="126.70" y1="329.35" x2="133.30" y2="322.75" stroke="#000" stroke-width="1.2" />
<line x1="130.00" y1="322.75" x2="130.00" y2="329.35" stroke="#000" stroke-width="1.2" />
<line x1="141.30" y1="322.13" x2="147.90" y2="328.74" stroke="#000" stroke-width="1.2" />
<line x1="141.30" y1="328.74" x2="147.90" y2="322.13" stroke="#000" stroke-width="1.2" />
<line x1="144.60" y1="322.13" x2="144.60" y2="328.74" stroke="#000" stroke-width="1.2" />
<line x1="156.40" y1="318.29" x2="163.00" y2="324.89" stroke="#000" stroke-width="1.2" />
<line x1="156.40" y1="324.89" x2="163.00" y2="318.29" stroke="#000" stroke-width="1.2" />
<line x1="159.70" y1="318.29" x2="159.70" y2="324.89" stroke="#000" stroke-width="1.2" />
<line x1="172.10" y1="316.03" x2="178.70" y2="322.63" stroke="#000" stroke-width="1.2" />
<line x1="172.10" y1="322.63" x2="178.70" y2="316.03" stroke="#000" stroke-width="1.2" />
<line x1="175.40" y1="316.03" x2="175.40" y2="322.63" stroke="#000" stroke-width="1.2" />
<line x1="186.90" y1="308.51" x2="193.50" y2="315.11" stroke="#000" stroke-width="1.2" />
<line x1="186.90" y1="315.11" x2="193.50" y2="308.51" stroke="#000" stroke-width="1.2" />
<line x1="190.20" y1="308.51" x2="190.20" y2="315.11" stroke="#000" stroke-width="1.2" />
<line x1="201.70" y1="305.64" x2="208.30" y2="312.24" stroke="#000" stroke-width="1.2" />
<line x1="201.70" y1="312.24" x2="208.30" y2="305.64" stroke="#000" stroke-width="1.2" />
<line x1="205.00" y1="305.64" x2="205.00" y2="312.24" stroke="#000" stroke-width="1.2" />
<line x1="216.80" y1="301.36" x2="223.40" y2="307.96" stroke="#000" stroke-width="1.2" />
<line x1="216.80" y1="307.96" x2="223.40" y2="301.36" stroke="#000" stroke-width="1.2" />
<line x1="220.10" y1="301.36" x2="220.10" y2="307.96" stroke="#000" stroke-width="1.2" />
<line x1="232.20" y1="292.20" x2="238.80" y2="298.80" stroke="#000" stroke-width="1.2" />
<line x1="232.20" y1="298.80" x2="238.80" y2="292.20" stroke="#000" stroke-width="1.2" />
<line x1="235.50" y1="292.20" x2="235.50" y2="298.80" stroke="#000" stroke-width="1.2" />
<line x1="246.70" y1="283.64" x2="253.30" y2="290.24" stroke="#000" stroke-width="1.2" />
<line x1="246.70" y1="290.24" x2="253.30" y2="283.64" stroke="#000" stroke-width="1.2" />
<line x1="250.00" y1="283.64" x2="250.00" y2="290.24" stroke="#000" stroke-width="1.2" />
<line x1="262.30" y1="269.59" x2="268.90" y2="276.19" stroke="#000" stroke-width="1.2" />
<line x1="262.30" y1="276.19" x2="268.90" y2="269.59" stroke="#000" stroke-width="1.2" />
<line x1="265.60" y1="269.59" x2="265.60" y2="276.19" stroke="#000" stroke-width="1.2" />
<line x1="271.80" y1="244.40" x2="271.80" y2="265.10" stroke="#666" stroke-width="1.2" />
<circle cx="276.30" cy="255.80" r="1.0" fill="#222"/>
<line x1="127.90" y1="219.40" x2="145.80" y2="219.40" stroke="#000" stroke-width="1.8" />
<line x1="134.50" y1="217.40" x2="138.50" y2="221.40" stroke="#000" stroke-width="1.0" />
<line x1="134.50" y1="221.40" x2="138.50" y2="217.40" stroke="#000" stroke-width="1.0" />
<line x1="127.90" y1="229.20" x2="145.80" y2="229.20" stroke="#000" stroke-width="1.8" />
<line x1="127.90" y1="239.60" x2="145.80" y2="239.60" stroke="#333" stroke-width="1.2" />
<path d="M136.50,236.20 L139.54,241.80 L133.46,241.80Z" fill="#000"/>
<text x="149.80" y="221.70" font-size="7.5" text-anchor="start" font-weight="normal" fill="#111" >Mock</text>
<text x="149.80" y="232.40" font-size="7.5" text-anchor="start" font-weight="normal" fill="#111" >Anti-CD20</text>
<text x="149.80" y="242.30" font-size="7.5" text-anchor="start" font-weight="normal" fill="#111" >IgG</text>
<text x="310.20" y="210.20" font-size="13" text-anchor="start" font-weight="bold" fill="#111" >E</text>
<line x1="345.20" y1="214.90" x2="345.20" y2="358.90" stroke="#8c8c8c" stroke-width="1" />
<line x1="342.70" y1="358.90" x2="345.20" y2="358.90" stroke="#8c8c8c" stroke-width="1" />
<text x="340.80" y="361.95" font-size="8.5" text-anchor="end" font-weight="normal" fill="#111" >0</text>
<line x1="342.70" y1="334.90" x2="345.20" y2="334.90" stroke="#8c8c8c" stroke-width="1" />
<text x="340.80" y="337.95" font-size="8.5" text-anchor="end" font-weight="normal" fill="#111" >10</text>
<line x1="342.70" y1="310.90" x2="345.20" y2="310.90" stroke="#8c8c8c" stroke-width="1" />
<text x="340.80" y="313.95" font-size="8.5" text-anchor="end" font-weight="normal" fill="#111" >20</text>
<line x1="342.70" y1="286.90" x2="345.20" y2="286.90" stroke="#8c8c8c" stroke-width="1" />
<text x="340.80" y="289.95" font-size="8.5" text-anchor="end" font-weight="normal" fill="#111" >30</text>
<line x1="342.70" y1="262.90" x2="345.20" y2="262.90" stroke="#8c8c8c" stroke-width="1" />
<text x="340.80" y="265.95" font-size="8.5" text-anchor="end" font-weight="normal" fill="#111" >40</text>
<line x1="342.70" y1="238.90" x2="345.20" y2="238.90" stroke="#8c8c8c" stroke-width="1" />
<text x="340.80" y="241.95" font-size="8.5" text-anchor="end" font-weight="normal" fill="#111" >50</text>
<line x1="342.70" y1="214.90" x2="345.20" y2="214.90" stroke="#8c8c8c" stroke-width="1" />
<text x="340.80" y="217.95" font-size="8.5" text-anchor="end" font-weight="normal" fill="#111" >60</text>
<line x1="345.20" y1="358.90" x2="445.00" y2="358.90" stroke="#8c8c8c" stroke-width="1" />
<line x1="445.00" y1="358.90" x2="445.00" y2="361.40" stroke="#8c8c8c" stroke-width="1" />
<text transform="translate(322.20,286.90) rotate(-90)" x="0" y="0" font-size="8.7" font-weight="bold" text-anchor="middle" fill="#111">Number of lung metastases</text>
<rect x="362.3" y="313.54" width="22.1" height="45.36" fill="#fff" stroke="#000" stroke-width="1"/>
<rect x="384.4" y="260.26" width="22.1" height="98.64" fill="#848484" stroke="#000" stroke-width="1"/>
<rect x="406.5" y="330.82" width="23.4" height="28.08" fill="#000" stroke="#000" stroke-width="1"/>
<line x1="373.40" y1="304.42" x2="373.40" y2="322.18" stroke="#111" stroke-width="1" />
<line x1="370.90" y1="304.42" x2="375.90" y2="304.42" stroke="#111" stroke-width="1" />
<line x1="370.90" y1="322.18" x2="375.90" y2="322.18" stroke="#111" stroke-width="1" />
<line x1="396.00" y1="251.38" x2="396.00" y2="268.66" stroke="#111" stroke-width="1" />
<line x1="393.50" y1="251.38" x2="398.50" y2="251.38" stroke="#111" stroke-width="1" />
<line x1="393.50" y1="268.66" x2="398.50" y2="268.66" stroke="#111" stroke-width="1" />
<line x1="417.90" y1="324.82" x2="417.90" y2="330.82" stroke="#111" stroke-width="1" />
<line x1="415.40" y1="324.82" x2="420.40" y2="324.82" stroke="#111" stroke-width="1" />
<line x1="415.40" y1="330.82" x2="420.40" y2="330.82" stroke="#111" stroke-width="1" />
<line x1="355.50" y1="238.60" x2="391.60" y2="238.60" stroke="#666" stroke-width="1.2" />
<line x1="392.80" y1="235.60" x2="429.90" y2="235.60" stroke="#666" stroke-width="1.2" />
<circle cx="371.60" cy="234.70" r="1.0" fill="#222"/>
<circle cx="409.70" cy="232.60" r="1.0" fill="#222"/>
<rect x="351.10" y="201.50" width="3.80" height="3.80" fill="#fff" stroke="#000" stroke-width="1.1"/>
<rect x="351.10" y="211.00" width="3.80" height="3.80" fill="#777" stroke="#000" stroke-width="1.1"/>
<rect x="350.90" y="219.40" width="4.20" height="4.20" fill="#000" stroke="none" stroke-width="0"/>
<text x="358.60" y="204.20" font-size="7.5" text-anchor="start" font-weight="normal" fill="#111" >Mock</text>
<text x="358.60" y="214.40" font-size="7.5" text-anchor="start" font-weight="normal" fill="#111" >Anti-CD20</text>
<text x="358.60" y="223.80" font-size="7.5" text-anchor="start" font-weight="normal" fill="#111" >IgG</text>
<line x1="0.7" y1="0" x2="0.7" y2="376" stroke="#606060" stroke-width="1.4"/>
<line x1="0" y1="0.5" x2="520" y2="0.5" stroke="#5a5a5a" stroke-width="1"/>
<line x1="519.2" y1="0" x2="519.2" y2="376" stroke="#5c5c5c" stroke-width="1.6"/>
<line x1="0" y1="375.35" x2="520" y2="375.35" stroke="#666" stroke-width="1.3"/>
</g></svg></body></html>
